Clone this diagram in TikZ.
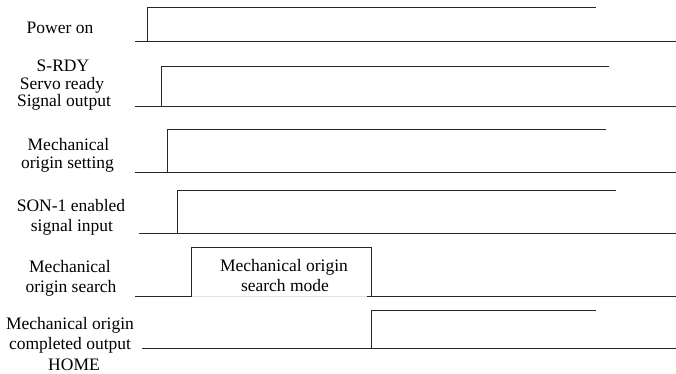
\documentclass[tikz,border=0pt]{standalone}
\usepackage{fontspec}
\setmainfont{Liberation Serif}
\begin{document}
\begin{tikzpicture}[x=1pt,y=-1pt,
  lbl/.style={anchor=base,inner sep=0pt,font=\fontsize{17.5}{20}\selectfont},
  sig/.style={line width=0.9pt,black!85,line join=miter},
  faint/.style={line width=0.8pt,black!12}]
\useasboundingbox (0,0) rectangle (676,374);
% Row 1: Power on
\node[lbl] (l1) at (60,34) {Power on};
\draw[sig] (135,41.5) -- (676,41.5);
\draw[sig] (147.5,41.5) -- (147.5,7) -- (595.5,7);
% Row 2: S-RDY
\node[lbl] (l2a) at (63,72) {S-RDY};
\node[lbl] (l2b) at (62,89.5) {Servo ready};
\node[lbl] (l2c) at (64,107) {Signal output};
\draw[sig] (135,106) -- (676,106);
\draw[sig] (161,106) -- (161,66) -- (609,66);
% Row 3: Mechanical origin setting
\node[lbl] (l3a) at (68.5,150.5) {Mechanical};
\node[lbl] (l3b) at (67.5,168.5) {origin setting};
\draw[sig] (135,172) -- (676,172);
\draw[sig] (167,172) -- (167,129) -- (606,129);
% Row 4: SON-1
\node[lbl] (l4a) at (71,211) {SON-1 enabled};
\node[lbl] (l4b) at (72,231) {signal input};
\draw[sig] (139,233) -- (676,233);
\draw[sig] (177.5,233) -- (177.5,190.5) -- (615.5,190.5);
% Row 5: Mechanical origin search
\node[lbl] (l5a) at (70,272.5) {Mechanical};
\node[lbl] (l5b) at (71,292) {origin search};
\draw[faint] (192,296) -- (371,296);
\draw[sig] (135,296) -- (191.5,296) -- (191.5,247.5) -- (371,247.5) -- (371,296);
\draw[sig] (367,296) -- (676,296);
\node[lbl] (b1) at (284,271) {Mechanical origin};
\node[lbl] (b2) at (285,291) {search mode};
% Row 6: HOME
\node[lbl] (l6a) at (70,329.5) {Mechanical origin};
\node[lbl] (l6b) at (70,349.5) {completed output};
\node[lbl] (l6c) at (74,370) {HOME};
\draw[sig] (142,348) -- (676,348);
\draw[sig] (371,348) -- (371,310) -- (595.5,310);
\end{tikzpicture}
\end{document}
